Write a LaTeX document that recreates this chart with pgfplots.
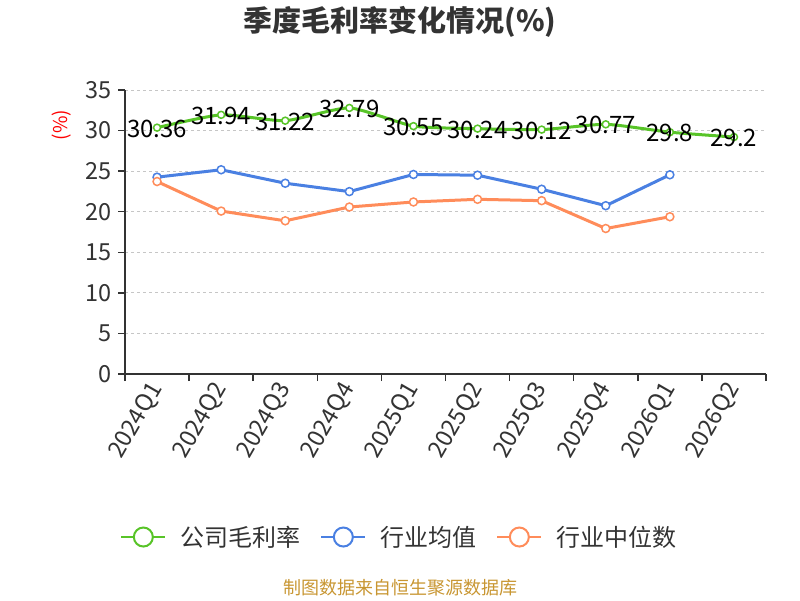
\documentclass[border=0pt]{standalone}
\usepackage{fontspec}
\setmainfont{Noto Sans CJK SC}
\usepackage{pgfplots}
\pgfplotsset{compat=1.18}
\pgfkeys{/pgf/number format/assume math mode=true}
\definecolor{cgreen}{RGB}{88,196,40}
\definecolor{cblue}{RGB}{74,128,226}
\definecolor{corange}{RGB}{255,140,90}
\definecolor{ctext}{RGB}{51,51,51}
\definecolor{csrc}{RGB}{200,150,50}
\begin{document}
\begin{tikzpicture}[x=1pt,y=1pt]
\path[use as bounding box] (0,0) rectangle (800,600);
\node[font=\fontsize{29}{31}\selectfont\bfseries, text=ctext] at (400,578) {季度毛利率变化情况(\%)};
\node[font=\fontsize{19}{21}\selectfont, text=red, rotate=90] at (62,475) {(\%)};
\node[font=\fontsize{18}{20}\selectfont, text=csrc] at (400,12) {制图数据来自恒生聚源数据库};
\begin{axis}[
  at={(125pt,226pt)}, anchor=south west,
  scale only axis, width=641pt, height=284pt,
  xmin=-0.5, xmax=9.5, ymin=0, ymax=35,
  axis x line*=bottom, axis y line*=left,
  axis line style={ctext, line width=1.5pt},
  xtick={0,...,9},
  xticklabels={2024Q1,2024Q2,2024Q3,2024Q4,2025Q1,2025Q2,2025Q3,2025Q4,2026Q1,2026Q2},
  every major x tick/.append style={draw=none},
  minor xtick={-0.5,0.5,...,9.5},
  minor tick length=7pt, major tick length=7pt,
  tick align=outside,
  tick style={ctext, line width=1.5pt},
  ytick={0,5,...,35},
  ymajorgrids, grid style={dashed, gray!45, line width=1pt},
  tick label style={font=\fontsize{23.5}{25}\selectfont, text=ctext},
  yticklabel style={xshift=-3pt},
  xticklabel style={rotate=60, anchor=east, yshift=-2pt},
  legend columns=3,
  legend style={at={(0.428,-0.574)}, anchor=center, draw=none, fill=none,
    font=\fontsize{24}{26}\selectfont, text=ctext,
    /tikz/every odd column/.append style={column sep=12pt},
    /tikz/every even column/.append style={column sep=18pt}},
  legend image code/.code={
    \draw[line width=2pt] (0pt,0pt) -- (44pt,0pt);
    \draw[line width=2pt, fill=white] (22pt,0pt) circle (9.5pt);
  },
]
\addplot[cgreen, line width=3pt, smooth, tension=0.35, mark=*, mark size=3.5pt,
  mark options={fill=white, line width=1.5pt},
  nodes near coords, every node near coord/.append style={anchor=center, text=black, font=\fontsize{24}{26}\selectfont, yshift=-1pt}]
coordinates {(0,30.36) (1,31.94) (2,31.22) (3,32.79) (4,30.55) (5,30.24) (6,30.12) (7,30.77) (8,29.8) (9,29.2)};
\addlegendentry{公司毛利率}
\addplot[cblue, line width=3pt, mark=*, mark size=4pt, mark options={fill=white, line width=1.5pt}]
coordinates {(0,24.26) (1,25.17) (2,23.51) (3,22.48) (4,24.59) (5,24.5) (6,22.77) (7,20.74) (8,24.55)};
\addlegendentry{行业均值}
\addplot[corange, line width=3pt, mark=*, mark size=4pt, mark options={fill=white, line width=1.5pt}]
coordinates {(0,23.72) (1,20.08) (2,18.88) (3,20.58) (4,21.2) (5,21.53) (6,21.36) (7,17.93) (8,19.38)};
\addlegendentry{行业中位数}
\end{axis}
\end{tikzpicture}
\end{document}
